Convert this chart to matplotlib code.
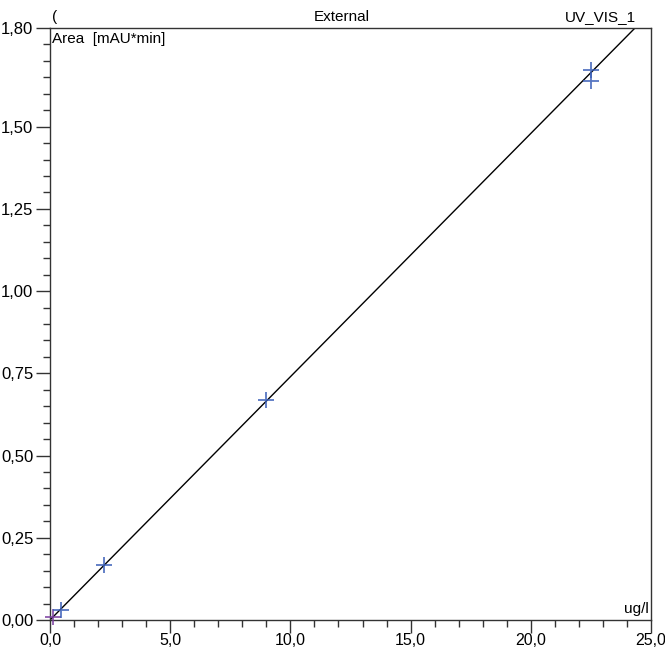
import numpy as np
import matplotlib.pyplot as plt
from matplotlib.ticker import FixedLocator, MultipleLocator, FuncFormatter

plt.rcParams['font.family'] = ['Liberation Sans', 'DejaVu Sans']

# calibration points (amount in ug/l, area in mAU*min)
amount = [0.1125, 0.45, 2.25, 9.0, 22.5, 22.5]
area = [0.010, 0.030, 0.167, 0.669, 1.638, 1.672]
point_colors = ['#7a3da0', '#3a5fb8', '#3a5fb8', '#3a5fb8', '#3a5fb8', '#3a5fb8']

y_major = [0.0, 0.25, 0.50, 0.75, 1.00, 1.25, 1.50, 1.80]

# fitted line through origin
slope = 0.07397

fig = plt.figure(figsize=(6.65, 6.48), dpi=100)
ax = fig.add_axes([50 / 665, 28 / 648, 601 / 665, 592 / 648])

xfit = np.array([0.0, 25.0])
ax.plot(xfit, slope * xfit, color='black', lw=1.0, zorder=2)

for xv, yv, c in zip(amount, area, point_colors):
    ax.plot(xv, yv, marker='+', ms=11, mew=1.3, color=c, alpha=0.85, ls='none',
            zorder=3, clip_on=False)

ax.set_xlim(0, 25)
ax.set_ylim(0, 1.8)

ax.xaxis.set_major_locator(MultipleLocator(5))
ax.xaxis.set_minor_locator(MultipleLocator(1))
ax.yaxis.set_major_locator(FixedLocator(y_major))
ax.yaxis.set_minor_locator(FixedLocator(np.arange(0.05, 1.78, 0.05)))

ax.xaxis.set_major_formatter(FuncFormatter(lambda v, p: f'{v:.1f}'.replace('.', ',')))
ax.yaxis.set_major_formatter(FuncFormatter(lambda v, p: f'{v:.2f}'.replace('.', ',')))

ax.tick_params(axis='y', which='major', direction='out', length=10, width=1,
               labelsize=12, color='#333333', pad=2)
ax.tick_params(axis='x', which='major', direction='out', length=9, width=1,
               labelsize=11.5, color='#333333', pad=0.5)
ax.tick_params(axis='both', which='minor', direction='out', length=5, width=1, color='#333333')

for s in ax.spines.values():
    s.set_color('#333333')
    s.set_linewidth(1)

fig.text(52 / 665, 1 - 17 / 648, '(', fontsize=11, va='center', ha='left')
fig.text(342 / 665, 1 - 17 / 648, 'External', fontsize=11, va='center', ha='center')
fig.text(636 / 665, 1 - 17 / 648, 'UV_VIS_1', fontsize=11, va='center', ha='right')
ax.text(0.004, 0.994, 'Area  [mAU*min]', transform=ax.transAxes, fontsize=11, va='top', ha='left')
ax.text(0.997, 0.006, 'ug/l', transform=ax.transAxes, fontsize=11, va='bottom', ha='right')

fig.savefig('out.png', dpi=100)
